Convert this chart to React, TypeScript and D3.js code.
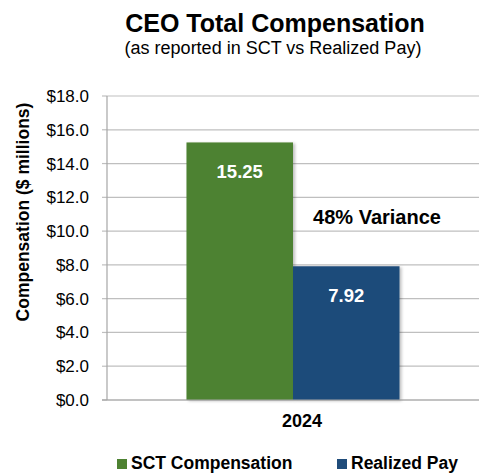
import React from "react";
import * as d3 from "d3";

const categories = ["2024"];
const seriesNames = ["SCT Compensation", "Realized Pay"];
const sctValues = [15.25];
const realizedValues = [7.92];
const yTicks = [0, 2, 4, 6, 8, 10, 12, 14, 16, 18];
const colors = ["#4E8232", "#1F4C7A"];
const varianceLabel = "48% Variance";

const W = 479;
const H = 474;
const M = { left: 107, right: 479, top: 96, bottom: 400 };
const FONT = "Arial, 'Liberation Sans', Helvetica, sans-serif";

export default function App() {
  const y = d3.scaleLinear().domain([0, 18]).range([M.bottom, M.top]);
  const x0 = d3.scaleBand().domain(categories).range([M.left, M.right]).paddingInner(0).paddingOuter(0.373);
  const x1 = d3.scaleBand().domain(seriesNames).range([0, x0.bandwidth()]).padding(0);
  const series = [sctValues, realizedValues];

  return (
    <svg width={W} height={H} style={{ position: "absolute", left: 0, top: 0, background: "#fff" }} fontFamily={FONT}>
      <defs>
        <filter id="sh" x="-10%" y="-10%" width="130%" height="120%">
          <feDropShadow dx="2" dy="1" stdDeviation="1.5" floodColor="#000" floodOpacity="0.25" />
        </filter>
      </defs>
      <text x={275} y={32} textAnchor="middle" fontSize={25} fontWeight="bold" fill="#000">CEO Total Compensation</text>
      <text x={273} y={54} textAnchor="middle" fontSize={18} fill="#000">(as reported in SCT vs Realized Pay)</text>

      {yTicks.map((t) => (
        <g key={t}>
          <line x1={t === 0 ? M.left - 5 : M.left} x2={M.right} y1={y(t)} y2={y(t)} stroke="#BFBFBF" strokeWidth={1.2} />
          <line x1={M.left - 5} x2={M.left} y1={y(t)} y2={y(t)} stroke="#BFBFBF" strokeWidth={1.2} />
          <text x={89} y={y(t) + 6} textAnchor="end" fontSize={17} fill="#000">{"$" + t.toFixed(1)}</text>
        </g>
      ))}
      <line x1={M.left} x2={M.left} y1={M.top} y2={M.bottom} stroke="#A6A6A6" strokeWidth={1.2} />

      {categories.map((c, ci) => (
        <g key={c}>
          {series.map((vals, si) => {
            const bx = (x0(c) as number) + (x1(seriesNames[si]) as number);
            const bw = x1.bandwidth();
            return (
              <g key={si}>
                <rect x={bx} y={y(vals[ci])} width={bw} height={y(0) - y(vals[ci])} fill={colors[si]} filter="url(#sh)" />
                <text x={bx + bw / 2} y={y(vals[ci]) + 36} textAnchor="middle" fontSize={18.5} fontWeight="bold" fill="#fff">{vals[ci].toFixed(2)}</text>
              </g>
            );
          })}
          <text x={(x0(c) as number) + x0.bandwidth() / 2 + 9} y={427} textAnchor="middle" fontSize={18} fontWeight="bold" fill="#000">{c}</text>
        </g>
      ))}
      <line x1={M.left - 5} x2={M.right} y1={M.bottom} y2={M.bottom} stroke="#A6A6A6" strokeWidth={1.2} />

      <text x={377} y={224} textAnchor="middle" fontSize={20} fontWeight="bold" fill="#000">{varianceLabel}</text>

      <text transform={`translate(29, 212) rotate(-90)`} textAnchor="middle" fontSize={17.5} fontWeight="bold" fill="#000">Compensation ($ millions)</text>

      {seriesNames.map((s, i) => {
        const lx = i === 0 ? 117 : 337;
        return (
          <g key={s}>
            <rect x={lx} y={459} width={10} height={10} fill={colors[i]} />
            <text x={lx + 14} y={469} fontSize={17.5} fontWeight="bold" fill="#000">{s}</text>
          </g>
        );
      })}
    </svg>
  );
}
